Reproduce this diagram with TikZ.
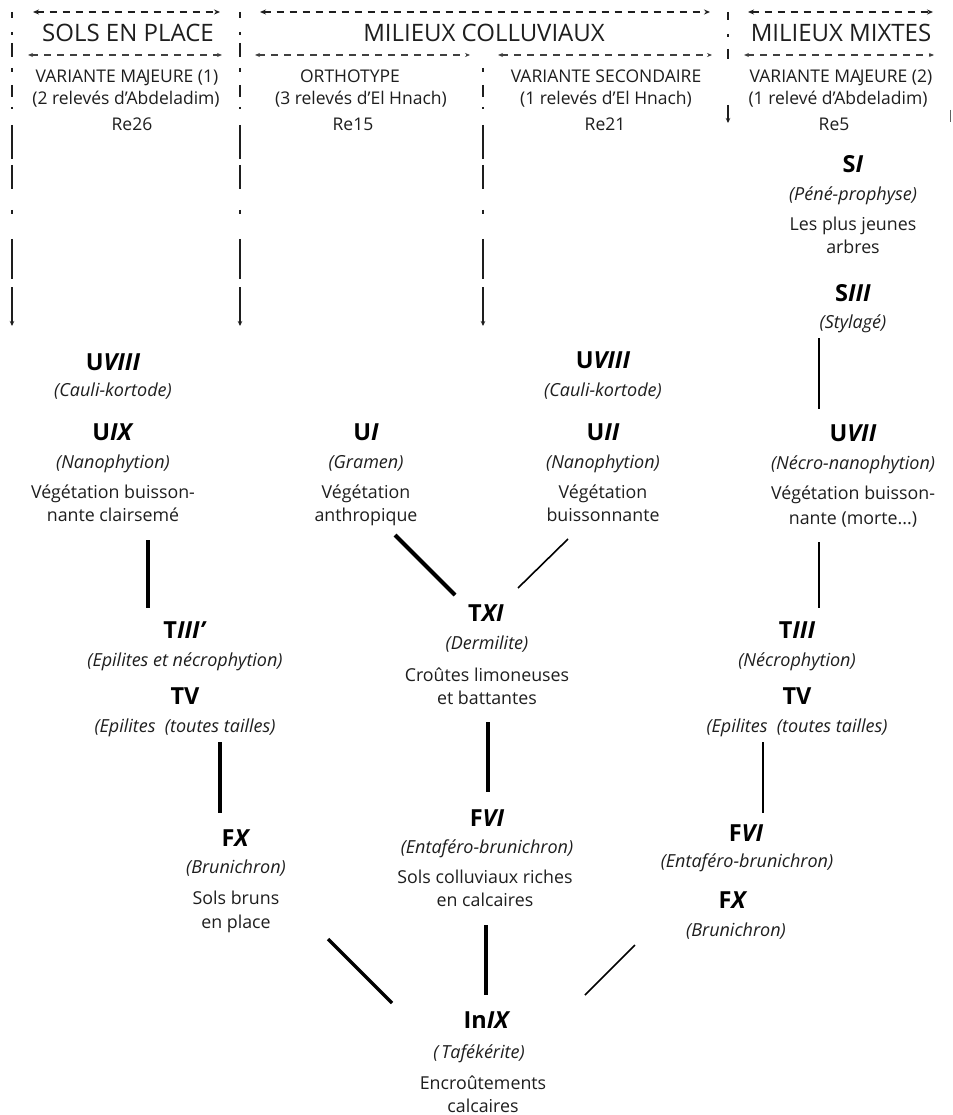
\documentclass[tikz,border=0pt]{standalone}
\usepackage{fontspec}
\setmainfont{Open Sans}
\usetikzlibrary{arrows.meta}
\definecolor{ink}{HTML}{1E1E1E}
\newcommand\lbl[2]{#1\textit{#2}}
\begin{document}
\begin{tikzpicture}[x=1pt,y=-1pt,
  base/.style={inner sep=0pt,anchor=base},
  hdr/.style={base,font=\fontsize{24}{28}\selectfont,text=ink},
  sub/.style={base,font=\fontsize{17.5}{20}\selectfont,text=ink},
  lab/.style={base,font=\fontsize{23.5}{27}\selectfont\bfseries,text=black},
  it/.style={base,font=\fontsize{18}{21}\selectfont\itshape,text=ink},
  txt/.style={base,font=\fontsize{17.8}{21}\selectfont,text=ink},
  span/.style={line width=1.4pt,dash pattern=on 7pt off 6pt,{Stealth[length=6pt,width=5pt]}-{Stealth[length=6pt,width=5pt]},draw=ink},
  subspan/.style={line width=1.2pt,dash pattern=on 7pt off 6pt,{Stealth[length=5pt,width=4pt]}-{Stealth[length=5pt,width=4pt]},draw=ink!85},
  divider/.style={line width=1.6pt,draw=ink,-{Stealth[length=5pt,width=4.5pt]},
    dash pattern=on 6pt off 14pt on 3pt off 8pt on 14pt off 11pt on 4pt off 13pt on 12pt off 10pt on 2pt off 16pt on 34pt off 6pt on 24pt off 21pt on 4pt off 25pt on 40pt off 8pt on 60pt off 10pt},
  heavy/.style={line width=4.5pt,draw=black},
  strong/.style={line width=3.5pt,draw=black},
  light/.style={line width=1.6pt,draw=black}
]
\useasboundingbox (0,0) rectangle (952,1115);
\fill[white] (0,0) rectangle (952,1115);

% ---------- header spans ----------
\coordinate (h1a) at (33,12);  \coordinate (h1b) at (220,12);
\coordinate (h2a) at (260,12); \coordinate (h2b) at (710,12);
\coordinate (h3a) at (748,12); \coordinate (h3b) at (933,12);
\draw[span] (h1a) -- (h1b);
\draw[span] (h2a) -- (h2b);
\draw[span] (h3a) -- (h3b);
\coordinate (s1a) at (28,55);  \coordinate (s1b) at (222,55);
\coordinate (s2a) at (255,55); \coordinate (s2b) at (470,55);
\coordinate (s3a) at (498,55); \coordinate (s3b) at (712,55);
\coordinate (s4a) at (744,55); \coordinate (s4b) at (934,55);
\draw[subspan] (s1a) -- (s1b);
\draw[subspan] (s2a) -- (s2b);
\draw[subspan] (s3a) -- (s3b);
\draw[subspan] (s4a) -- (s4b);

% ---------- dividers ----------
\coordinate (d1a) at (12,12);  \coordinate (d1b) at (12,326);
\coordinate (d2a) at (240,12); \coordinate (d2b) at (240,326);
\coordinate (d3a) at (483,57); \coordinate (d3b) at (483,326);
\coordinate (d4a) at (728,12); \coordinate (d4b) at (728,123);
\draw[divider] (d1a) -- (d1b);
\draw[divider] (d2a) -- (d2b);
\draw[divider,dash phase=45pt] (d3a) -- (d3b);
\draw[line width=1.6pt,draw=ink,-{Stealth[length=5pt,width=4.5pt]},dash pattern=on 8pt off 14pt on 3pt off 12pt on 10pt off 46pt on 40pt] (d4a) -- (d4b);
\coordinate (edgea) at (950,110); \coordinate (edgeb) at (950,122);
\draw[line width=1pt,draw=ink!70] (edgea) -- (edgeb);

% ---------- headers ----------
\node[hdr] (H1) at (128,42) {SOLS EN PLACE};
\node[hdr] (H2) at (484,42) {MILIEUX COLLUVIAUX};
\node[hdr] (H3) at (841,42) {MILIEUX MIXTES};

\node[sub] (A1) at (127,83) {VARIANTE MA\kern-1.5pt JEURE (1)};
\node[sub] (A2) at (126,105) {(2 relevés d'Abdeladim)};
\node[sub] (A3) at (132,131) {Re26};
\node[sub] (B1) at (350,83) {ORTHOTYPE};
\node[sub] (B2) at (361,105) {(3 relevés d'El Hnach)};
\node[sub] (B3) at (353,131) {Re15};
\node[sub] (C1) at (606,83) {VARIANTE SECONDAIRE};
\node[sub] (C2) at (606,105) {(1 relevés d'El Hnach)};
\node[sub] (C3) at (605,131) {Re21};
\node[sub] (D1) at (841,83) {VARIANTE MA\kern-1.5pt JEURE (2)};
\node[sub] (D2) at (838,105) {(1 relevé d'Abdeladim)};
\node[sub] (D3) at (834,131) {Re5};

% ---------- column 1 ----------
\node[lab] (u8a) at (113,370) {\lbl{U}{VIII}};
\node[it]  (u8ai) at (113,396) {(Cauli-kortode)};
\node[lab] (u9) at (113,440) {\lbl{U}{IX}};
\node[it]  (u9i) at (113,468) {(Nanophytion)};
\node[txt] (u9t1) at (113,498) {Végétation buisson-};
\node[txt] (u9t2) at (113,521) {nante clairsemé};

\node[lab] (t3p) at (185,638) {\lbl{T}{III'}};
\node[it]  (t3pi) at (185,666) {(Epilites et nécrophytion)};
\node[lab] (t5a) at (185,704) {TV};
\node[it]  (t5ai) at (185,732) {(Epilites\ \ (toutes tailles)};

\node[lab] (fxa) at (236,846) {\lbl{F}{X}};
\node[it]  (fxai) at (236,873) {(Brunichron)};
\node[txt] (fxat1) at (236,904) {Sols bruns};
\node[txt] (fxat2) at (236,928) {en place};

% ---------- column 2 ----------
\node[lab] (u1) at (366,440) {\lbl{U}{I}};
\node[it]  (u1i) at (366,468) {(Gramen)};
\node[txt] (u1t1) at (366,498) {Végétation};
\node[txt] (u1t2) at (366,521) {anthropique};

% ---------- center ----------
\node[lab] (t11) at (486,621) {\lbl{T}{XI}};
\node[it]  (t11i) at (487,649) {(Dermilite)};
\node[txt] (t11t1) at (487,681) {Croûtes limoneuses};
\node[txt] (t11t2) at (487,704) {et battantes};

\node[lab] (f6a) at (487,826) {\lbl{F}{VI}};
\node[it]  (f6ai) at (487,853) {(Entaféro-brunichron)};
\node[txt] (f6at1) at (485,883) {Sols colluviaux riches};
\node[txt] (f6at2) at (485,906) {en calcaires};

\node[lab] (in9) at (487,1028) {\lbl{In}{IX}};
\node[it]  (in9i) at (479,1058) {(\,Tafékérite)};
\node[txt] (in9t1) at (483,1089) {Encroûtements};
\node[txt] (in9t2) at (483,1112) {calcaires};

% ---------- column 3 ----------
\node[lab] (u8b) at (603,368) {\lbl{U}{VIII}};
\node[it]  (u8bi) at (603,396) {(Cauli-kortode)};
\node[lab] (u2) at (603,440) {\lbl{U}{II}};
\node[it]  (u2i) at (603,468) {(Nanophytion)};
\node[txt] (u2t1) at (603,498) {Végétation};
\node[txt] (u2t2) at (603,521) {buissonnante};

% ---------- column 4 ----------
\node[lab] (s1) at (853,173) {\lbl{S}{I}};
\node[it]  (s1i) at (853,201) {(Péné-prophyse)};
\node[txt] (s1t1) at (853,231) {Les plus jeunes};
\node[txt] (s1t2) at (853,253) {arbres};
\node[lab] (s3) at (853,301) {\lbl{S}{III}};
\node[it]  (s3i) at (853,328) {(Stylagé)};

\node[lab] (u7) at (853,441) {\lbl{U}{VII}};
\node[it]  (u7i) at (853,469) {(Nécro-nanophytion)};
\node[txt] (u7t1) at (853,499) {Végétation buisson-};
\node[txt] (u7t2) at (853,524) {nante (morte...)};

\node[lab] (t3) at (797,638) {\lbl{T}{III}};
\node[it]  (t3i) at (797,666) {(Nécrophytion)};
\node[lab] (t5b) at (797,704) {TV};
\node[it]  (t5bi) at (797,732) {(Epilites\ \ (toutes tailles)};

\node[lab] (f6b) at (746,841) {\lbl{F}{VI}};
\node[it]  (f6bi) at (747,867) {(Entaféro-brunichron)};
\node[lab] (fxb) at (733,908) {\lbl{F}{X}};
\node[it]  (fxbi) at (736,936) {(Brunichron)};

% ---------- connectors ----------
\coordinate (c1a) at (148,540); \coordinate (c1b) at (148,608);
\draw[strong] (c1a) -- (c1b);
\coordinate (c2a) at (395,535); \coordinate (c2b) at (455,595);
\draw[line width=4pt] (c2a) -- (c2b);
\coordinate (c3a) at (568,539); \coordinate (c3b) at (518,588);
\draw[light] (c3a) -- (c3b);
\coordinate (c4a) at (819,338); \coordinate (c4b) at (819,409);
\draw[light] (c4a) -- (c4b);
\coordinate (c5a) at (819,542); \coordinate (c5b) at (819,608);
\draw[light] (c5a) -- (c5b);
\coordinate (c6a) at (220,742); \coordinate (c6b) at (220,813);
\draw[strong] (c6a) -- (c6b);
\coordinate (c7a) at (488,722); \coordinate (c7b) at (488,792);
\draw[heavy] (c7a) -- (c7b);
\coordinate (c8a) at (763,742); \coordinate (c8b) at (763,813);
\draw[light] (c8a) -- (c8b);
\coordinate (c9a) at (328,939); \coordinate (c9b) at (392,1003);
\draw[line width=3.2pt] (c9a) -- (c9b);
\coordinate (c10a) at (486,925); \coordinate (c10b) at (486,995);
\draw[heavy] (c10a) -- (c10b);
\coordinate (c11a) at (635,945); \coordinate (c11b) at (585,995);
\draw[light] (c11a) -- (c11b);
\end{tikzpicture}
\end{document}
